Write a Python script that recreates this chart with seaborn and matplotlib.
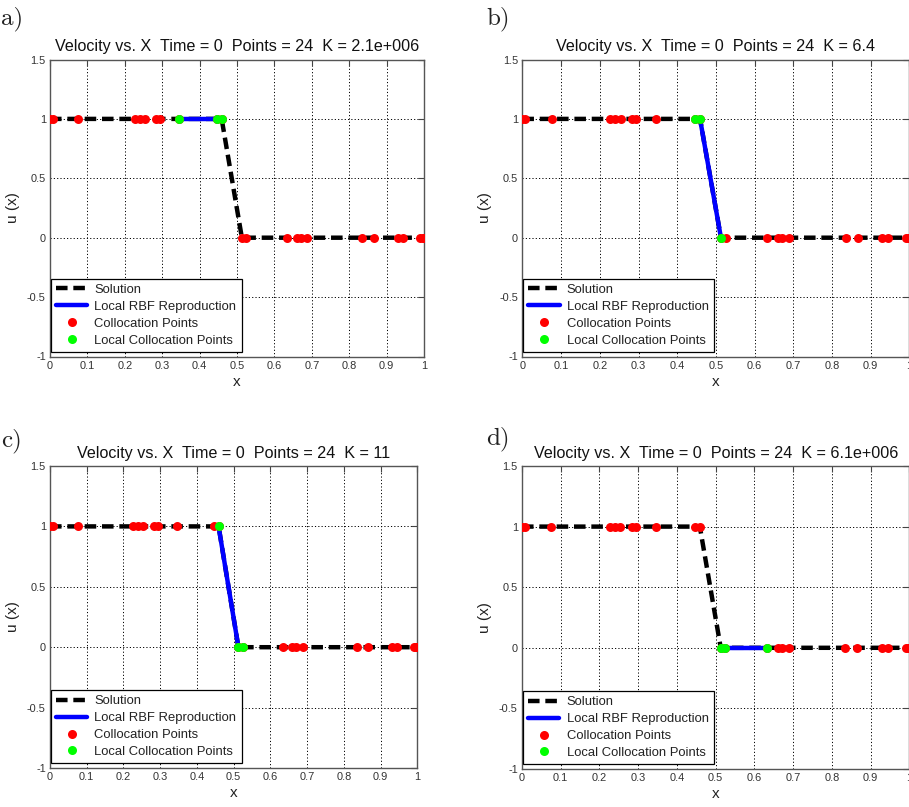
import numpy as np
import pandas as pd
import matplotlib
matplotlib.use("Agg")
import matplotlib.pyplot as plt
from matplotlib.lines import Line2D
import seaborn as sns

# ---------------- data ----------------
colloc_x = [0.0, 0.008, 0.076, 0.227, 0.240, 0.254, 0.283, 0.294, 0.345,
            0.446, 0.459, 0.513, 0.525, 0.633, 0.660, 0.670, 0.688, 0.835,
            0.866, 0.930, 0.944, 0.990, 0.996, 1.0]
colloc_u = [1, 1, 1, 1, 1, 1, 1, 1, 1,
            1, 1, 0, 0, 0, 0, 0, 0, 0,
            0, 0, 0, 0, 0, 0]

local_x_a = [0.345, 0.446, 0.459]
local_u_a = [1, 1, 1]
local_x_b = [0.446, 0.459, 0.513]
local_u_b = [1, 1, 0]
local_x_c = [0.459, 0.513, 0.525]
local_u_c = [1, 0, 0]
local_x_d = [0.513, 0.525, 0.633]
local_u_d = [0, 0, 0]

panel_letters = ["a)", "b)", "c)", "d)"]
k_labels = ["2.1e+006", "6.4", "11", "6.1e+006"]
x_ticks = [0, 0.1, 0.2, 0.3, 0.4, 0.5, 0.6, 0.7, 0.8, 0.9, 1]
x_ticklabels = ["0", "0.1", "0.2", "0.3", "0.4", "0.5", "0.6", "0.7", "0.8", "0.9", "1"]
y_ticks = [-1, -0.5, 0, 0.5, 1, 1.5]
y_ticklabels = ["-1", "-0.5", "0", "0.5", "1", "1.5"]

legend_labels = ["Solution", "Local RBF Reproduction", "Collocation Points",
                 "Local Collocation Points"]

# ---------------- style ----------------
sns.set_theme(style="white")
plt.rcParams["font.family"] = ["Liberation Sans", "DejaVu Sans"]

W, H = 909, 807
fig = plt.figure(figsize=(W / 100, H / 100), dpi=100)

# axes boxes in pixels: left, top, right, bottom
boxes = [
    (50, 59.5, 424, 356.5),
    (522.4, 59.5, 909.4, 356.5),
    (50, 466, 417.3, 768),
    (522, 466, 909.4, 769),
]
letter_pos = [(1, 19), (486, 19), (1, 441), (486, 439)]
local_sets = [(local_x_a, local_u_a), (local_x_b, local_u_b),
              (local_x_c, local_u_c), (local_x_d, local_u_d)]

df_col = pd.DataFrame({"x": colloc_x, "u": colloc_u})

dash = (0, (2.6, 1.3))
for i, (l, t, r, b) in enumerate(boxes):
    ax = fig.add_axes([l / W, 1 - b / H, (r - l) / W, (b - t) / H])
    lx, lu = local_sets[i]
    df_loc = pd.DataFrame({"x": lx, "u": lu})

    sns.lineplot(data=df_col, x="x", y="u", ax=ax, sort=False, estimator=None,
                 color="black", linewidth=3.2, linestyle=dash, zorder=2)
    sns.lineplot(data=df_loc, x="x", y="u", ax=ax, sort=False, estimator=None,
                 color="#0000ff", linewidth=3.2, zorder=3)
    sns.scatterplot(data=df_col, x="x", y="u", ax=ax, color="#ff0000",
                    s=42, linewidth=0, marker="o", zorder=4)
    sns.scatterplot(data=df_loc, x="x", y="u", ax=ax, color="#00ff00",
                    s=42, linewidth=0, marker="o", zorder=5)

    ax.set_xlim(0, 1)
    ax.set_ylim(-1, 1.5)
    ax.set_xticks(x_ticks)
    ax.set_xticklabels(x_ticklabels)
    ax.set_yticks(y_ticks)
    ax.set_yticklabels(y_ticklabels)
    ax.tick_params(axis="both", direction="in", length=4, width=0.8,
                   labelsize=7.9, labelcolor="#333333", color="#444444",
                   top=True, right=True, pad=3)
    ax.grid(True, color="black", linestyle=(0, (1.2, 2.2)), linewidth=0.7)
    ax.set_axisbelow(True)
    for s in ax.spines.values():
        s.set_color("#555555")
        s.set_linewidth(1.0)
        s.set_visible(True)

    ax.set_xlabel("x", fontsize=11, labelpad=3, color="#222222")
    ax.set_ylabel("u (x)", fontsize=11, labelpad=5, color="#222222")
    ax.set_title("Velocity vs. X  Time = 0  Points = 24  K = " + k_labels[i],
                 fontsize=11.6, pad=6, color="#111111")

    handles = [
        Line2D([], [], color="black", linewidth=3.2, linestyle=dash),
        Line2D([], [], color="#0000ff", linewidth=3.2),
        Line2D([], [], color="#ff0000", marker="o", markersize=6.5,
               linestyle="none", markeredgewidth=0),
        Line2D([], [], color="#00ff00", marker="o", markersize=6.5,
               linestyle="none", markeredgewidth=0),
    ]
    leg = ax.legend(handles, legend_labels, loc="lower left",
                    bbox_to_anchor=(0.002, 0.016), fontsize=9.4,
                    frameon=True, fancybox=False, framealpha=1,
                    edgecolor="black", handlelength=2.4, handletextpad=0.55,
                    borderpad=0.4, labelspacing=0.36, borderaxespad=0.0)
    leg.get_frame().set_linewidth(0.9)
    for txt in leg.get_texts():
        txt.set_color("#222222")

    lx0, ly0 = letter_pos[i]
    fig.text(lx0 / W, 1 - ly0 / H, panel_letters[i], fontsize=18,
             family=["cmr10", "DejaVu Serif"], va="center", ha="left",
             color="#222222")

fig.savefig("out.png", dpi=100)
